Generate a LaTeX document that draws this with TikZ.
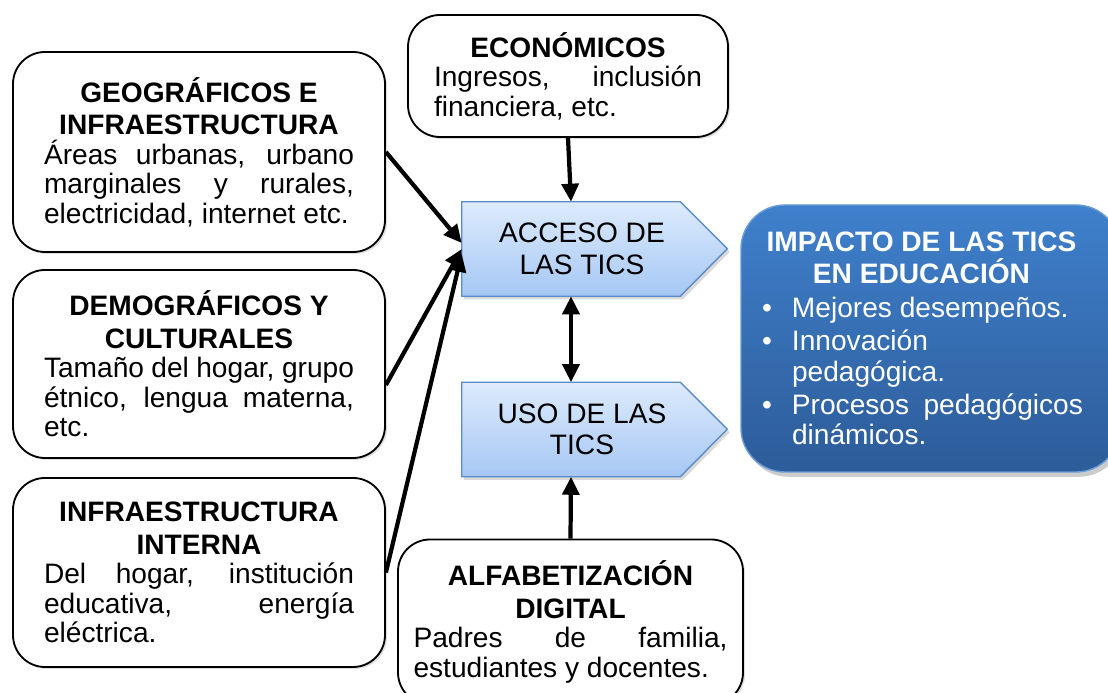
\documentclass[tikz,border=0pt]{standalone}
\usepackage{fontspec}
\setmainfont{Liberation Sans}
\usepackage{tikz}
\usetikzlibrary{arrows.meta,shadows,backgrounds}
\definecolor{lightblue}{HTML}{DDEBFC}
\definecolor{midblue}{HTML}{A6C7F4}
\definecolor{edgeblue}{HTML}{5B8BC9}
\definecolor{topblue}{HTML}{3F80CC}
\definecolor{deepblue}{HTML}{2D5C99}
\definecolor{rimblue}{HTML}{6A9BD6}
\setlength{\parindent}{0pt}
\hyphenpenalty=10000
\exhyphenpenalty=10000
\newcommand{\titulo}[1]{{\centering\bfseries\fontsize{20}{23}\selectfont #1\par}}
\newcommand{\vineta}[1]{\par\vspace{2.3pt}\hangindent=0.8cm\hangafter=1\noindent\makebox[0.8cm][l]{\hspace{0.05cm}\textbullet}#1\par}

\begin{document}
\begin{tikzpicture}[
    caja/.style={draw, line width=1.3pt, rounded corners=0.8cm, fill=white,
      inner sep=0pt, align=justify, font=\fontsize{20}{21}\selectfont,
      drop shadow={opacity=0.25, shadow xshift=0.05cm, shadow yshift=-0.05cm}},
    etapa/.style={draw=edgeblue, line width=1pt, top color=lightblue, bottom color=midblue,
      drop shadow={opacity=0.3, shadow xshift=0.06cm, shadow yshift=-0.08cm}},
    etiqueta/.style={minimum width=5.45cm, minimum height=2.35cm, inner sep=0pt},
    textoetapa/.style={align=center, font=\fontsize{20}{22.5}\selectfont, xshift=0.275cm},
    impactocaja/.style={draw=rimblue, line width=1pt, rounded corners=1.1cm,
      top color=topblue, bottom color=deepblue,
      drop shadow={opacity=0.4, shadow xshift=0.08cm, shadow yshift=-0.12cm}},
    flecha/.style={-{Triangle[length=0.45cm, width=0.42cm]}, line width=3pt},
    flechadoble/.style={{Triangle[length=0.45cm, width=0.42cm]}-{Triangle[length=0.45cm, width=0.42cm]}, line width=3pt}
  ]
  % frame
  \useasboundingbox (0,0) rectangle (27.7,17.325);

  % factors on the left
  \node[caja, minimum width=9.3cm, minimum height=5cm, text width=7.75cm] (geo) at (4.975,13.525)
    {\titulo{GEOGRÁFICOS E\\INFRAESTRUCTURA}Áreas urbanas, urbano\linebreak marginales y rurales,\linebreak electricidad, internet etc.};
  \node[caja, minimum width=9.3cm, minimum height=4.7cm, text width=7.75cm] (demo) at (4.975,8.225)
    {\titulo{DEMOGRÁFICOS Y\\CULTURALES}Tamaño del hogar, grupo\linebreak étnico, lengua materna,\linebreak etc.};
  \node[caja, minimum width=9.3cm, minimum height=4.725cm, text width=7.75cm] (infra) at (4.975,3.0125)
    {\titulo{INFRAESTRUCTURA\\INTERNA}Del hogar, institución\linebreak educativa, energía\linebreak eléctrica.};

  % top and bottom factors
  \node[caja, minimum width=8cm, minimum height=3.05cm, text width=6.7cm] (econ) at (14.2,15.425)
    {\titulo{ECONÓMICOS}Ingresos, inclusión\linebreak financiera, etc.};
  \node[caja, minimum width=8.625cm, minimum height=4.125cm, text width=7.85cm] (alfab) at (14.2625,1.775)
    {\titulo{ALFABETIZACIÓN\\DIGITAL}Padres de familia,\linebreak estudiantes y docentes.};

  % access and use
  \node[etiqueta, label={[textoetapa]center:ACCESO DE\\LAS TICS}] (acceso) at (14.275,11.1) {};
  \node[etiqueta, label={[textoetapa]center:USO DE LAS\\TICS}] (uso) at (14.275,6.5875) {};
  \begin{pgfonlayer}{background}
    \path[etapa] (acceso.north west) -- (acceso.north east) -- ++(1.175,-1.175)
      -- (acceso.south east) -- (acceso.south west) -- cycle;
    \path[etapa] (uso.north west) -- (uso.north east) -- ++(1.175,-1.175)
      -- (uso.south east) -- (uso.south west) -- cycle;
  \end{pgfonlayer}

  % impact
  \node[impactocaja, minimum width=9.475cm, minimum height=6.675cm] (impacto) at (23.2625,8.8625) {};
  \node[text width=8.075cm, inner sep=0pt, align=justify, text=white,
    font=\fontsize{20}{21.5}\selectfont] (impactotxt) at (23.0375,8.8625)
    {\titulo{IMPACTO DE LAS TICS\\EN EDUCACIÓN}\vineta{Mejores desempeños.}\vineta{Innovación\\pedagógica.}\vineta{Procesos pedagógicos\linebreak dinámicos.}};

  % arrows
  \draw[flecha] (geo.east) -- ([yshift=0.15cm]acceso.west);
  \draw[flecha] ([yshift=-0.525cm]demo.east) -- (acceso.west);
  \draw[flecha] (infra.east) -- ([yshift=-0.12cm]acceso.west);
  \draw[flecha] (econ.south) -- (acceso.north);
  \draw[flechadoble] (acceso.south) -- (uso.north);
  \draw[flecha] (alfab.north) -- (uso.south);
\end{tikzpicture}
\end{document}
